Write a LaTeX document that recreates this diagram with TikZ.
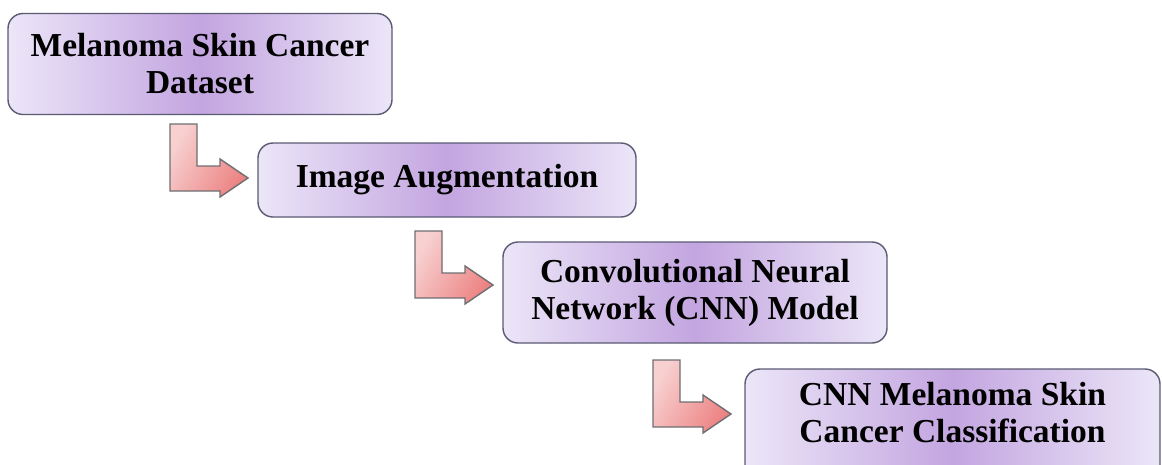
\documentclass[tikz,border=0pt]{standalone}
\usepackage{fontspec}
\setmainfont{Liberation Serif}
\definecolor{boxedge}{RGB}{236,230,248}
\definecolor{boxmid}{RGB}{195,165,224}
\definecolor{boxline}{RGB}{90,90,115}
\definecolor{arrlight}{RGB}{248,208,208}
\definecolor{arrdark}{RGB}{236,130,130}
\definecolor{arrline}{RGB}{110,110,115}
\tikzset{
  stagebox/.style={draw=boxline, line width=1.4pt, rounded corners=15pt,
    left color=boxedge, right color=boxedge, middle color=boxmid,
    inner sep=0pt},
  lbl/.style={font=\fontsize{33.5}{37}\selectfont\bfseries, align=center, text=black},
  elbow/.pic={
    \path[draw=arrline, line width=1.4pt, left color=arrlight, right color=arrdark, shading angle=60]
      (0,0) -- (27,0) -- (27,42) -- (50,42) -- (50,35) -- (78,54) -- (50,73) -- (50,67) -- (0,67) -- cycle;
  }
}
\begin{document}
\begin{tikzpicture}[x=1pt,y=-1pt]
\useasboundingbox (0,0) rectangle (1162,464);
\clip (0,0) rectangle (1162,464);
\node[stagebox, minimum width=384pt, minimum height=101pt, lbl] (b1) at (200,64) {Melanoma Skin Cancer\\Dataset};
\node[stagebox, minimum width=378pt, minimum height=74pt, lbl] (b2) at (447,180) {Image Augmentation};
\node[stagebox, minimum width=384pt, minimum height=101pt, lbl] (b3) at (695,292.5) {Convolutional Neural\\Network (CNN) Model};
\node[stagebox, minimum width=415pt, minimum height=120pt] (b4) at (952.5,429) {};
\node[lbl] (t4) at (952.5,413) {CNN Melanoma Skin\\Cancer Classification};
\pic at (170,124) {elbow};
\pic at (415,231) {elbow};
\pic at (653,360) {elbow};
\end{tikzpicture}
\end{document}
